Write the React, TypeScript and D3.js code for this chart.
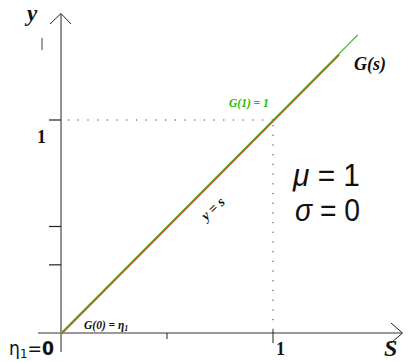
import React from "react";
import * as d3 from "d3";

// Curve G(s) = s drawn over [0, sMax], and the identity y = s underneath
const gSegment: number[] = [0, 1.4];
const identitySegment: number[] = [0, 1.31];
// Tick positions (in data units)
const xTicks: number[] = [0.5, 1];
const yTicks: number[] = [0.32, 0.5, 1];
// Reference point where G(1) = 1
const refPoint: [number, number] = [1, 1];

const W = 409;
const H = 362;

export default function App() {
  const x = d3.scaleLinear().domain([0, 1]).range([61, 273]);
  const y = d3.scaleLinear().domain([0, 1]).range([333, 120]);

  const line = d3
    .line<number>()
    .x((s) => x(s))
    .y((s) => y(s));

  const serif = "'Liberation Serif', 'DejaVu Serif', serif";
  const sans = "'DejaVu Sans', sans-serif";
  const big = "'Liberation Sans', 'DejaVu Sans', sans-serif";

  return (
    <svg
      width={W}
      height={H}
      viewBox={`0 0 ${W} ${H}`}
      style={{ position: "absolute", left: 0, top: 0, background: "#fff" }}
    >
      {/* dotted guides to the point (1, 1) */}
      <line
        x1={x(0)}
        y1={y(refPoint[1])}
        x2={x(refPoint[0])}
        y2={y(refPoint[1])}
        stroke="#333"
        strokeWidth={1}
        strokeDasharray="1.2 8.5"
        strokeDashoffset={-7}
      />
      <line
        x1={x(refPoint[0])}
        y1={y(refPoint[1])}
        x2={x(refPoint[0])}
        y2={y(0)}
        stroke="#333"
        strokeWidth={1}
        strokeDasharray="1.2 8.5"
        strokeDashoffset={-5}
      />

      {/* axes */}
      <line x1={38} y1={y(0)} x2={402} y2={y(0)} stroke="#777" strokeWidth={1.6} />
      <line x1={x(0)} y1={352} x2={x(0)} y2={14} stroke="#777" strokeWidth={1.6} />
      <path d="M50,24 L61,13.5 L71,24" fill="none" stroke="#222" strokeWidth={1} />
      <path d="M391,323 L402.5,333 L391,343" fill="none" stroke="#222" strokeWidth={1} />
      <line x1={42} y1={38} x2={42} y2={50} stroke="#888" strokeWidth={1.6} />

      {/* ticks */}
      {xTicks.map((t) => (
        <line
          key={"xt" + t}
          x1={x(t)}
          x2={x(t)}
          y1={t === 1 ? 330 : y(0)}
          y2={t === 1 ? 343 : 339}
          stroke="#222"
          strokeWidth={1}
        />
      ))}
      {yTicks.map((t) => (
        <line
          key={"yt" + t}
          x1={49}
          x2={x(0)}
          y1={y(t)}
          y2={y(t)}
          stroke="#222"
          strokeWidth={1.2}
        />
      ))}

      {/* identity and G(s) */}
      <path
        d={line(identitySegment) ?? ""}
        fill="none"
        stroke="#d8402a"
        strokeWidth={1.6}
        transform="translate(0.6,0.6)"
      />
      <path d={line(gSegment) ?? ""} fill="none" stroke="#3cb81c" strokeWidth={1.2} />

      {/* axis labels */}
      <text x={27} y={21} fontFamily={serif} fontWeight="bold" fontStyle="italic" fontSize={23} fill="#111">
        y
      </text>
      <text x={384} y={356} fontFamily={serif} fontWeight="bold" fontStyle="italic" fontSize={24} fill="#111">
        S
      </text>
      <text x={37} y={143} fontFamily={serif} fontWeight="bold" fontSize={18} fill="#111">
        1
      </text>
      <text x={276} y={355} fontFamily={serif} fontWeight="bold" fontSize={18} fill="#111">
        1
      </text>
      <text x={9} y={355} fontFamily={sans} fontSize={19} fill="#111" textLength={45} lengthAdjust="spacingAndGlyphs">
        η<tspan fontSize={13} dy={3}>1</tspan>
        <tspan dy={-3}>=</tspan>
        <tspan fontWeight="bold">0</tspan>
      </text>

      {/* curve annotations */}
      <text x={229} y={107} fontFamily={serif} fontWeight="bold" fontStyle="italic" fontSize={11.5} fill="#22bb00">
        G(1) = 1
      </text>
      <text x={354} y={70} fontFamily={serif} fontWeight="bold" fontStyle="italic" fontSize={18} fill="#111">
        G(s)
      </text>
      <text x={84} y={329} fontFamily={serif} fontWeight="bold" fontStyle="italic" fontSize={11.5} fill="#111">
        G(0) = η<tspan fontSize={8} dy={2}>1</tspan>
      </text>
      <text
        x={0}
        y={0}
        transform="translate(216,212) rotate(-43)"
        textAnchor="middle"
        fontFamily={serif}
        fontWeight="bold"
        fontStyle="italic"
        fontSize={14}
        fill="#111"
      >
        y = s
      </text>

      {/* parameters */}
      <text x={293} y={186} fontFamily={big} fontSize={31} fill="#111" textLength={67} lengthAdjust="spacingAndGlyphs">
        <tspan fontStyle="italic">μ</tspan> = 1
      </text>
      <text x={295} y={221} fontFamily={big} fontSize={31} fill="#111" textLength={65} lengthAdjust="spacingAndGlyphs">
        <tspan fontStyle="italic">σ</tspan> = 0
      </text>
    </svg>
  );
}
